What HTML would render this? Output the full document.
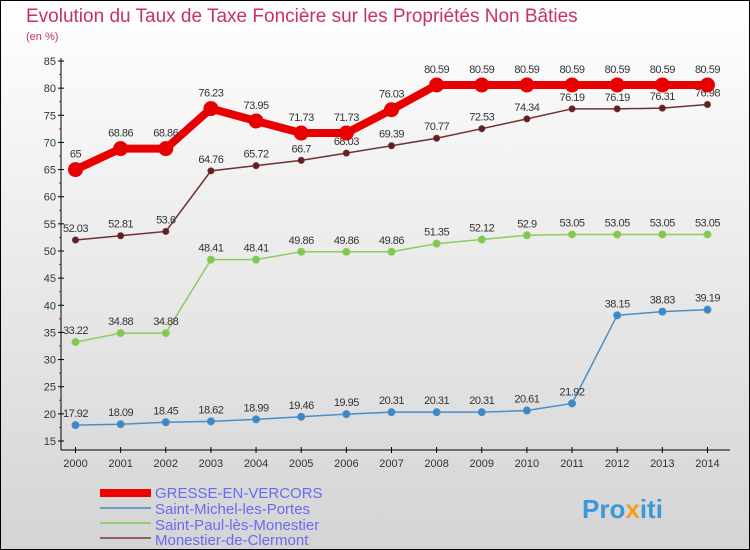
<!DOCTYPE html>
<html><head><meta charset="utf-8"><style>
body{margin:0;width:750px;height:550px;overflow:hidden;font-family:"Liberation Sans",sans-serif}
svg{display:block}
</style></head><body>
<svg id="c" width="750" height="550" xmlns="http://www.w3.org/2000/svg">
<defs><linearGradient id="bg" x1="0" y1="0" x2="0" y2="1"><stop offset="0" stop-color="#ffffff"/><stop offset="1" stop-color="#d4d4d4"/></linearGradient></defs>
<rect x="0.5" y="0.5" width="749" height="549" fill="url(#bg)" stroke="#000"/>
<text x="26" y="22" font-size="19" fill="#c8325f">Evolution du Taux de Taxe Foncière sur les Propriétés Non Bâties</text>
<text x="26" y="40" font-size="11" fill="#c8325f">(en %)</text>
<g id="axes"></g><g id="series"></g>
<g>
<rect x="100" y="489" width="51" height="8" fill="#e00"/>
<text x="155" y="498" font-size="15" fill="#6a6af0">GRESSE-EN-VERCORS</text>
<line x1="100" y1="508" x2="151" y2="508" stroke="#6a9ec8" stroke-width="2"/>
<text x="155" y="514" font-size="15" fill="#6a6af0">Saint-Michel-les-Portes</text>
<line x1="100" y1="523" x2="151" y2="523" stroke="#90d070" stroke-width="2"/>
<text x="155" y="530" font-size="15" fill="#6a6af0">Saint-Paul-lès-Monestier</text>
<line x1="100" y1="538" x2="151" y2="538" stroke="#906060" stroke-width="2"/>
<text x="155" y="545" font-size="15" fill="#6a6af0">Monestier-de-Clermont</text>
</g>
<text x="582" y="518" font-size="26" font-weight="bold" fill="#3a9ad8">Pro<tspan fill="#f0a020">x</tspan>iti</text>
</svg>
<script>
const years=[2000,2001,2002,2003,2004,2005,2006,2007,2008,2009,2010,2011,2012,2013,2014];
const yTicks=[15,20,25,30,35,40,45,50,55,60,65,70,75,80,85];
const gresse=[65,68.86,68.86,76.23,73.95,71.73,71.73,76.03,80.59,80.59,80.59,80.59,80.59,80.59,80.59];
const michel=[17.92,18.09,18.45,18.62,18.99,19.46,19.95,20.31,20.31,20.31,20.61,21.92,38.15,38.83,39.19];
const paul=[33.22,34.88,34.88,48.41,48.41,49.86,49.86,49.86,51.35,52.12,52.9,53.05,53.05,53.05,53.05];
const monestier=[52.03,52.81,53.6,64.76,65.72,66.7,68.03,69.39,70.77,72.53,74.34,76.19,76.19,76.31,76.98];
const NS="http://www.w3.org/2000/svg";
const X=i=>75.5+i*45.14, Y=v=>441-(v-15)*(380/70);
function el(t,a,p){const e=document.createElementNS(NS,t);for(const k in a)e.setAttribute(k,a[k]);p.appendChild(e);return e;}
const ax=document.getElementById('axes'), sg=document.getElementById('series');
let l=el('line',{x1:61,y1:58,x2:61,y2:450,stroke:'#000'},ax);


l=el('line',{x1:61,y1:450,x2:730,y2:450,stroke:'#000'},ax);


yTicks.forEach(v=>{el('line',{x1:58,y1:Y(v),x2:64,y2:Y(v),stroke:'#000'},ax);
 if(v<85)el('line',{x1:59,y1:Y(v+2.5),x2:61,y2:Y(v+2.5),stroke:'#e00'},ax);
 const t=el('text',{x:56,y:Y(v)+4,'font-size':11,'text-anchor':'end',fill:'#333'},ax);t.textContent=v;
 
 });
years.forEach((y,i)=>{el('line',{x1:X(i),y1:447,x2:X(i),y2:453,stroke:'#000'},ax);
 const t=el('text',{x:X(i),y:467,'font-size':11,'text-anchor':'middle',fill:'#333'},ax);t.textContent=y;
 
 });
function series(d,color,dot,w,r,name){
 const g=el('g',{},sg);
 
 
 el('polyline',{points:d.map((v,i)=>X(i)+','+Y(v)).join(' '),fill:'none',stroke:color,'stroke-width':w},g);
 d.forEach((v,i)=>{const c=el('circle',{cx:X(i),cy:Y(v),r:r,fill:dot,stroke:color,'stroke-width':1},g);
  
  
  const t=el('text',{x:X(i),y:Y(v)-8-(r>4?4:0),'font-size':11,'text-anchor':'middle',fill:'#333','letter-spacing':'-0.5'},g);
  t.textContent=v;
  
  });
}
series(michel,'#4a8ec8','#3a88c8',1.5,3.5,'series-saint-michel');
series(paul,'#8ccc60','#80c850',1.5,3.5,'series-saint-paul');
series(monestier,'#703030','#602020',1.5,3,'series-monestier');
series(gresse,'#e80000','#e80000',8,7,'series-gresse');
</script>
</body></html>
